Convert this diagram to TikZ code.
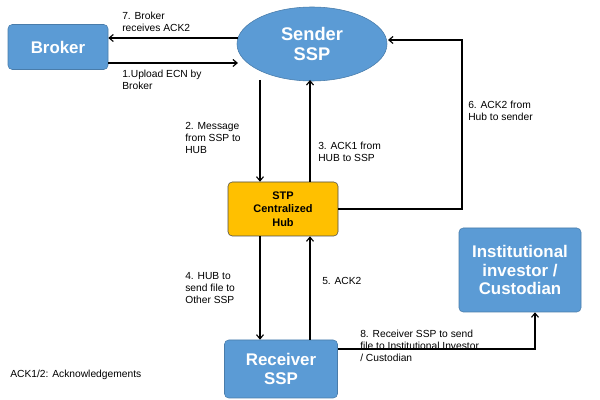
\documentclass[tikz,border=0pt]{standalone}
\usepackage{fontspec}
\setmainfont{Liberation Sans}
\usetikzlibrary{arrows.meta,shapes.geometric}
\definecolor{bl}{HTML}{5B9BD5}
\definecolor{hub}{HTML}{FFC000}
\tikzset{
 blk/.style={fill=bl,draw=bl!80!black,rounded corners=3pt,text=white,font=\bfseries\fontsize{12}{13}\selectfont,align=center,inner sep=0},
 lbl/.style={font=\fontsize{7.3}{8.6}\selectfont,align=left,anchor=north west,inner sep=0},
 arr/.style={-{Straight Barb[length=3pt,width=5pt]},line width=0.8pt}
}
\begin{document}
\begin{tikzpicture}[x=0.025cm,y=-0.025cm]
\useasboundingbox (0,0) rectangle (600,400);
\node[blk,minimum width=100*0.025cm,minimum height=45*0.025cm] (broker) at (58,47) {Broker};
\node[ellipse,fill=bl,draw=bl!80!black,text=white,font=\bfseries\fontsize{13}{14}\selectfont,align=center,minimum width=150*0.025cm,minimum height=74*0.025cm,inner sep=0] (sender) at (312,44) {Sender\\SSP};
\node[fill=hub,draw=black!70,rounded corners=3pt,font=\bfseries\fontsize{7.8}{9.5}\selectfont,align=center,minimum width=110*0.025cm,minimum height=54*0.025cm,inner sep=0] (hub) at (283,209) {STP\\Centralized\\Hub};
\node[blk,minimum width=122*0.025cm,minimum height=84*0.025cm] (inst) at (520,270) {Institutional\\investor /\\Custodian};
\node[blk,minimum width=113*0.025cm,minimum height=58*0.025cm] (recv) at (281,369) {Receiver\\SSP};
% broker arrows
\coordinate (s7) at (238,38); \coordinate (s1) at (238,63);
\draw[arr] (s7) -- (broker.east|-s7);
\draw[arr] (broker.east|-s1) -- (s1);
\node[lbl] (l7) at (122,12) {7. Broker\\receives ACK2};
\node[lbl] (l1) at (122,70) {1.Upload ECN by\\Broker};
% sender <-> hub
\coordinate (a) at (260,80); \coordinate (b) at (310,80);
\draw[arr] (a) -- (hub.north-|a);
\draw[arr] (hub.north-|b) -- (b);
\node[lbl] (l2) at (185,122) {2. Message\\from SSP to\\HUB};
\node[lbl] (l3) at (318,142) {3. ACK1 from\\HUB to SSP};
% hub <-> receiver
\draw[arr] (hub.south-|a) -- (recv.north-|a);
\draw[arr] (recv.north-|b) -- (hub.south-|b);
\node[lbl] (l4) at (185,272) {4. HUB to\\send file to\\Other SSP};
\node[lbl] (l5) at (322,277) {5. ACK2};
% hub -> sender
\coordinate (c6) at (462,40);
\draw[arr] (hub.east) -- (hub.east-|c6) -- (c6) -- (388,40);
\node[lbl] (l6) at (468,101) {6. ACK2 from\\Hub to sender};
% receiver -> inst
\coordinate (r) at (338,349);
\draw[arr] (r) -- (535,349) -- (inst.south-|535,0);
\node[lbl] (l8) at (360,330) {8. Receiver SSP to send\\file to Institutional Investor\\/ Custodian};
\node[lbl] (note) at (10,370) {ACK1/2: Acknowledgements};
\end{tikzpicture}
\end{document}
